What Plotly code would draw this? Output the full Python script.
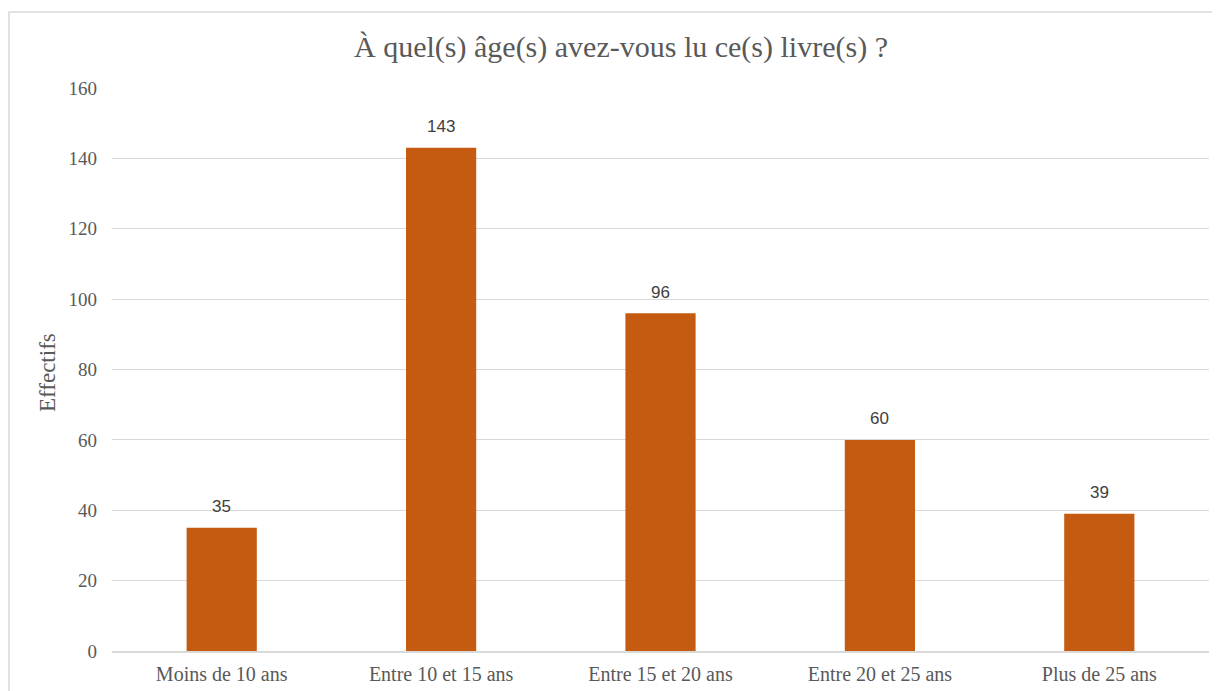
import plotly.graph_objects as go

categories = ['Moins de 10 ans', 'Entre 10 et 15 ans', 'Entre 15 et 20 ans',
              'Entre 20 et 25 ans', 'Plus de 25 ans']
effectifs = [35, 143, 96, 60, 39]

# page is offset by the 8px body margin
W, H = 1220, 691
L, R, T, B = 104, 19, 80, 48
pw, ph = W - L - R, H - T - B

def px(x):
    return (x - L) / pw

def py(y):
    return (H - B - y) / ph

fig = go.Figure()
fig.add_trace(go.Bar(
    x=categories, y=effectifs,
    marker=dict(color='#c55a11', line=dict(width=0)),
    hoverinfo='x+y'))

# étiquettes de données
for c, v in zip(categories, effectifs):
    fig.add_annotation(x=c, y=v, text=str(v), showarrow=False,
                       yanchor='middle', yshift=21,
                       font=dict(family='Liberation Sans', size=17, color='#404040'))

# titre de l'axe Y
fig.add_annotation(xref='paper', yref='paper', x=px(39), y=py(365),
                   text='Effectifs', textangle=-90, showarrow=False,
                   xanchor='center', yanchor='middle',
                   font=dict(family='Liberation Serif', size=23, color='#595959'))

fig.update_layout(
    width=W, height=H,
    margin=dict(l=L, r=R, t=T, b=B),
    paper_bgcolor='white', plot_bgcolor='white',
    bargap=0.68,
    showlegend=False,
    font=dict(family='Liberation Serif', color='#595959'),
    title=dict(text='À quel(s) âge(s) avez-vous lu ce(s) livre(s) ?',
               x=613 / W, xref='container', xanchor='center',
               y=1 - 38 / H, yref='container', yanchor='middle',
               font=dict(family='Liberation Serif', size=30, color='#595959')),
    xaxis=dict(showgrid=False, showline=True, linecolor='#d9d9d9', linewidth=1.5,
               ticks='', ticklabelstandoff=4, tickfont=dict(size=20, color='#595959')),
    yaxis=dict(range=[0, 160], dtick=20, showgrid=True, gridcolor='#d9d9d9', gridwidth=1,
               zeroline=False, ticks='', ticklabelstandoff=14,
               tickfont=dict(size=19, color='#595959')),
    shapes=[dict(type='rect', xref='paper', yref='paper',
                 x0=px(1), x1=px(1240), y0=py(720), y1=py(4),
                 line=dict(color='#d9d9d9', width=1.5), fillcolor='rgba(0,0,0,0)',
                 layer='below')])

fig.write_html('out.html')
